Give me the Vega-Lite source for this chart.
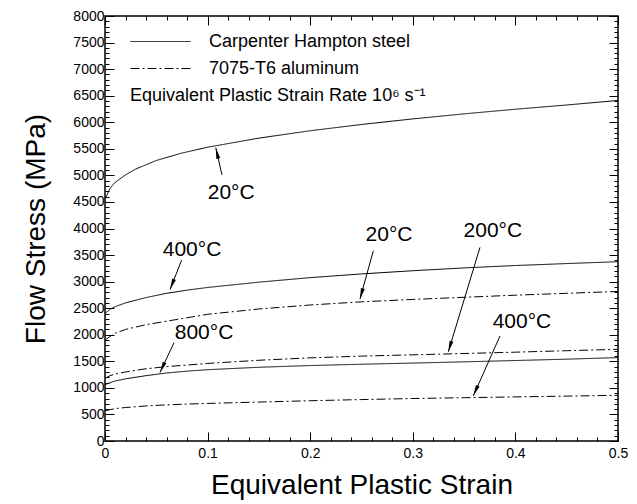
{
  "$schema": "https://vega.github.io/schema/vega-lite/v6.json",
  "width": 513,
  "height": 425,
  "autosize": {"type": "none"},
  "padding": {"left": 105, "top": 16, "right": 19, "bottom": 63},
  "background": "white",
  "config": {
    "font": "Liberation Sans",
    "view": {"stroke": "black", "strokeWidth": 1.5}
  },
  "datasets": {
    "curves": [
      {"series": "S20", "material": "Carpenter Hampton steel", "strain": 0, "stress": 4550},
      {"series": "S20", "material": "Carpenter Hampton steel", "strain": 0.005, "stress": 4760},
      {"series": "S20", "material": "Carpenter Hampton steel", "strain": 0.01, "stress": 4870},
      {"series": "S20", "material": "Carpenter Hampton steel", "strain": 0.02, "stress": 5010},
      {"series": "S20", "material": "Carpenter Hampton steel", "strain": 0.03, "stress": 5120},
      {"series": "S20", "material": "Carpenter Hampton steel", "strain": 0.05, "stress": 5280},
      {"series": "S20", "material": "Carpenter Hampton steel", "strain": 0.075, "stress": 5420},
      {"series": "S20", "material": "Carpenter Hampton steel", "strain": 0.1, "stress": 5530},
      {"series": "S20", "material": "Carpenter Hampton steel", "strain": 0.15, "stress": 5701},
      {"series": "S20", "material": "Carpenter Hampton steel", "strain": 0.2, "stress": 5840},
      {"series": "S20", "material": "Carpenter Hampton steel", "strain": 0.25, "stress": 5958},
      {"series": "S20", "material": "Carpenter Hampton steel", "strain": 0.3, "stress": 6063},
      {"series": "S20", "material": "Carpenter Hampton steel", "strain": 0.35, "stress": 6158},
      {"series": "S20", "material": "Carpenter Hampton steel", "strain": 0.4, "stress": 6245},
      {"series": "S20", "material": "Carpenter Hampton steel", "strain": 0.45, "stress": 6325},
      {"series": "S20", "material": "Carpenter Hampton steel", "strain": 0.5, "stress": 6410},
      {"series": "S400", "material": "Carpenter Hampton steel", "strain": 0, "stress": 2400},
      {"series": "S400", "material": "Carpenter Hampton steel", "strain": 0.005, "stress": 2480},
      {"series": "S400", "material": "Carpenter Hampton steel", "strain": 0.01, "stress": 2530},
      {"series": "S400", "material": "Carpenter Hampton steel", "strain": 0.02, "stress": 2600},
      {"series": "S400", "material": "Carpenter Hampton steel", "strain": 0.04, "stress": 2700},
      {"series": "S400", "material": "Carpenter Hampton steel", "strain": 0.06, "stress": 2780},
      {"series": "S400", "material": "Carpenter Hampton steel", "strain": 0.08, "stress": 2840},
      {"series": "S400", "material": "Carpenter Hampton steel", "strain": 0.1, "stress": 2890},
      {"series": "S400", "material": "Carpenter Hampton steel", "strain": 0.15, "stress": 2990},
      {"series": "S400", "material": "Carpenter Hampton steel", "strain": 0.2, "stress": 3075},
      {"series": "S400", "material": "Carpenter Hampton steel", "strain": 0.25, "stress": 3145},
      {"series": "S400", "material": "Carpenter Hampton steel", "strain": 0.3, "stress": 3205},
      {"series": "S400", "material": "Carpenter Hampton steel", "strain": 0.35, "stress": 3258},
      {"series": "S400", "material": "Carpenter Hampton steel", "strain": 0.4, "stress": 3303},
      {"series": "S400", "material": "Carpenter Hampton steel", "strain": 0.45, "stress": 3340},
      {"series": "S400", "material": "Carpenter Hampton steel", "strain": 0.5, "stress": 3375},
      {"series": "S800", "material": "Carpenter Hampton steel", "strain": 0, "stress": 1060},
      {"series": "S800", "material": "Carpenter Hampton steel", "strain": 0.005, "stress": 1100},
      {"series": "S800", "material": "Carpenter Hampton steel", "strain": 0.01, "stress": 1130},
      {"series": "S800", "material": "Carpenter Hampton steel", "strain": 0.02, "stress": 1170},
      {"series": "S800", "material": "Carpenter Hampton steel", "strain": 0.04, "stress": 1230},
      {"series": "S800", "material": "Carpenter Hampton steel", "strain": 0.06, "stress": 1280},
      {"series": "S800", "material": "Carpenter Hampton steel", "strain": 0.08, "stress": 1315},
      {"series": "S800", "material": "Carpenter Hampton steel", "strain": 0.1, "stress": 1342},
      {"series": "S800", "material": "Carpenter Hampton steel", "strain": 0.15, "stress": 1388},
      {"series": "S800", "material": "Carpenter Hampton steel", "strain": 0.2, "stress": 1420},
      {"series": "S800", "material": "Carpenter Hampton steel", "strain": 0.25, "stress": 1445},
      {"series": "S800", "material": "Carpenter Hampton steel", "strain": 0.3, "stress": 1467},
      {"series": "S800", "material": "Carpenter Hampton steel", "strain": 0.35, "stress": 1490},
      {"series": "S800", "material": "Carpenter Hampton steel", "strain": 0.4, "stress": 1515},
      {"series": "S800", "material": "Carpenter Hampton steel", "strain": 0.45, "stress": 1540},
      {"series": "S800", "material": "Carpenter Hampton steel", "strain": 0.5, "stress": 1570},
      {"series": "A20", "material": "7075-T6 aluminum", "strain": 0, "stress": 1900},
      {"series": "A20", "material": "7075-T6 aluminum", "strain": 0.005, "stress": 1970},
      {"series": "A20", "material": "7075-T6 aluminum", "strain": 0.01, "stress": 2030},
      {"series": "A20", "material": "7075-T6 aluminum", "strain": 0.02, "stress": 2100},
      {"series": "A20", "material": "7075-T6 aluminum", "strain": 0.04, "stress": 2190},
      {"series": "A20", "material": "7075-T6 aluminum", "strain": 0.06, "stress": 2255},
      {"series": "A20", "material": "7075-T6 aluminum", "strain": 0.08, "stress": 2320},
      {"series": "A20", "material": "7075-T6 aluminum", "strain": 0.1, "stress": 2385},
      {"series": "A20", "material": "7075-T6 aluminum", "strain": 0.15, "stress": 2485},
      {"series": "A20", "material": "7075-T6 aluminum", "strain": 0.2, "stress": 2560},
      {"series": "A20", "material": "7075-T6 aluminum", "strain": 0.25, "stress": 2620},
      {"series": "A20", "material": "7075-T6 aluminum", "strain": 0.3, "stress": 2665},
      {"series": "A20", "material": "7075-T6 aluminum", "strain": 0.35, "stress": 2705},
      {"series": "A20", "material": "7075-T6 aluminum", "strain": 0.4, "stress": 2745},
      {"series": "A20", "material": "7075-T6 aluminum", "strain": 0.45, "stress": 2780},
      {"series": "A20", "material": "7075-T6 aluminum", "strain": 0.5, "stress": 2815},
      {"series": "A200", "material": "7075-T6 aluminum", "strain": 0, "stress": 1180},
      {"series": "A200", "material": "7075-T6 aluminum", "strain": 0.005, "stress": 1230},
      {"series": "A200", "material": "7075-T6 aluminum", "strain": 0.01, "stress": 1260},
      {"series": "A200", "material": "7075-T6 aluminum", "strain": 0.02, "stress": 1300},
      {"series": "A200", "material": "7075-T6 aluminum", "strain": 0.04, "stress": 1360},
      {"series": "A200", "material": "7075-T6 aluminum", "strain": 0.06, "stress": 1400},
      {"series": "A200", "material": "7075-T6 aluminum", "strain": 0.08, "stress": 1430},
      {"series": "A200", "material": "7075-T6 aluminum", "strain": 0.1, "stress": 1460},
      {"series": "A200", "material": "7075-T6 aluminum", "strain": 0.15, "stress": 1520},
      {"series": "A200", "material": "7075-T6 aluminum", "strain": 0.2, "stress": 1565},
      {"series": "A200", "material": "7075-T6 aluminum", "strain": 0.25, "stress": 1598},
      {"series": "A200", "material": "7075-T6 aluminum", "strain": 0.3, "stress": 1622},
      {"series": "A200", "material": "7075-T6 aluminum", "strain": 0.35, "stress": 1647},
      {"series": "A200", "material": "7075-T6 aluminum", "strain": 0.4, "stress": 1672},
      {"series": "A200", "material": "7075-T6 aluminum", "strain": 0.45, "stress": 1700},
      {"series": "A200", "material": "7075-T6 aluminum", "strain": 0.5, "stress": 1725},
      {"series": "A400", "material": "7075-T6 aluminum", "strain": 0, "stress": 570},
      {"series": "A400", "material": "7075-T6 aluminum", "strain": 0.005, "stress": 590},
      {"series": "A400", "material": "7075-T6 aluminum", "strain": 0.01, "stress": 610},
      {"series": "A400", "material": "7075-T6 aluminum", "strain": 0.02, "stress": 630},
      {"series": "A400", "material": "7075-T6 aluminum", "strain": 0.04, "stress": 660},
      {"series": "A400", "material": "7075-T6 aluminum", "strain": 0.06, "stress": 680},
      {"series": "A400", "material": "7075-T6 aluminum", "strain": 0.08, "stress": 695},
      {"series": "A400", "material": "7075-T6 aluminum", "strain": 0.1, "stress": 707},
      {"series": "A400", "material": "7075-T6 aluminum", "strain": 0.15, "stress": 733},
      {"series": "A400", "material": "7075-T6 aluminum", "strain": 0.2, "stress": 758},
      {"series": "A400", "material": "7075-T6 aluminum", "strain": 0.25, "stress": 780},
      {"series": "A400", "material": "7075-T6 aluminum", "strain": 0.3, "stress": 800},
      {"series": "A400", "material": "7075-T6 aluminum", "strain": 0.35, "stress": 815},
      {"series": "A400", "material": "7075-T6 aluminum", "strain": 0.4, "stress": 830},
      {"series": "A400", "material": "7075-T6 aluminum", "strain": 0.45, "stress": 845},
      {"series": "A400", "material": "7075-T6 aluminum", "strain": 0.5, "stress": 860}
    ],
    "notes": [
      {"label": "20°C", "lx": 0.123, "ly": 4670, "ax": 0.114, "ay": 5009, "tx": 0.108, "ty": 5520},
      {"label": "400°C", "lx": 0.0848, "ly": 3594, "ax": 0.0747, "ay": 3406, "tx": 0.0634, "ty": 2850},
      {"label": "20°C", "lx": 0.2768, "ly": 3877, "ax": 0.2615, "ay": 3581, "tx": 0.2485, "ty": 2670},
      {"label": "200°C", "lx": 0.378, "ly": 3953, "ax": 0.3655, "ay": 3645, "tx": 0.3346, "ty": 1680},
      {"label": "400°C", "lx": 0.4064, "ly": 2245, "ax": 0.385, "ay": 1977, "tx": 0.359, "ty": 850},
      {"label": "800°C", "lx": 0.0965, "ly": 2028, "ax": 0.0673, "ay": 1853, "tx": 0.0536, "ty": 1290}
    ]
  },
  "resolve": {"axis": {"x": "independent", "y": "independent"}},
  "layer": [
    {
      "data": {"name": "curves"},
      "mark": {"type": "line", "color": "black", "strokeWidth": 1, "clip": true},
      "encoding": {
        "x": {
          "field": "strain", "type": "quantitative",
          "scale": {"domain": [0, 0.5], "nice": false, "zero": false},
          "axis": {
            "orient": "bottom",
            "values": [0,0.02,0.04,0.06,0.08,0.1,0.12,0.14,0.16,0.18,0.2,0.22,0.24,0.26,0.28,0.3,0.32,0.34,0.36,0.38,0.4,0.42,0.44,0.46,0.48,0.5],
            "tickSize": {"condition": {"test": "abs(datum.value*10 - round(datum.value*10)) < 0.000001", "value": -9}, "value": -4},
            "labelExpr": "abs(datum.value*10 - round(datum.value*10)) < 0.000001 ? datum.label : ''",
            "format": "~g",
            "domain": false, "grid": false,
            "tickColor": "black", "tickWidth": 1,
            "labelColor": "black", "labelFontSize": 14, "labelPadding": 14,
            "labelOverlap": false, "labelFlush": false,
            "title": "Equivalent Plastic Strain",
            "titleFontSize": 28, "titleFontWeight": "normal", "titleColor": "black", "titlePadding": 6
          }
        },
        "y": {
          "field": "stress", "type": "quantitative",
          "scale": {"domain": [0, 8000], "nice": false},
          "axis": {
            "orient": "left",
            "values": [0,100,200,300,400,500,600,700,800,900,1000,1100,1200,1300,1400,1500,1600,1700,1800,1900,2000,2100,2200,2300,2400,2500,2600,2700,2800,2900,3000,3100,3200,3300,3400,3500,3600,3700,3800,3900,4000,4100,4200,4300,4400,4500,4600,4700,4800,4900,5000,5100,5200,5300,5400,5500,5600,5700,5800,5900,6000,6100,6200,6300,6400,6500,6600,6700,6800,6900,7000,7100,7200,7300,7400,7500,7600,7700,7800,7900,8000],
            "tickSize": {"condition": {"test": "datum.value % 500 === 0", "value": -9}, "value": -4},
            "labelExpr": "datum.value % 500 === 0 ? datum.label : ''",
            "format": "d",
            "domain": false, "grid": false,
            "tickColor": "black", "tickWidth": 1,
            "labelColor": "black", "labelFontSize": 14, "labelPadding": 10,
            "labelOverlap": false, "labelFlush": false,
            "title": "Flow Stress (MPa)",
            "titleFontSize": 28, "titleFontWeight": "normal", "titleColor": "black", "titlePadding": 22
          }
        },
        "strokeDash": {
          "field": "material", "type": "nominal",
          "scale": {"domain": ["Carpenter Hampton steel", "7075-T6 aluminum"], "range": [[1, 0], [9, 3, 2, 3]]},
          "legend": {
            "orient": "none", "legendX": 25, "legendY": 12,
            "title": "Equivalent Plastic Strain Rate 10⁶ s⁻¹",
            "titleOrient": "bottom", "titleAnchor": "start",
            "titleFontSize": 18, "titleFontWeight": "normal", "titleColor": "black", "titlePadding": 5, "titleLimit": 500,
            "labelFontSize": 18, "labelColor": "black", "labelOffset": 18, "labelLimit": 500,
            "symbolType": "stroke", "symbolSize": 3600, "symbolStrokeWidth": 1, "symbolStrokeColor": "black",
            "clipHeight": 27, "rowPadding": 0, "padding": 0
          }
        },
        "detail": {"field": "series"}
      }
    },
    {
      "data": {"name": "curves"},
      "mark": {"type": "line", "opacity": 0},
      "encoding": {
        "x": {
          "field": "strain", "type": "quantitative",
          "scale": {"domain": [0, 0.5], "nice": false, "zero": false},
          "axis": {
            "orient": "top",
            "values": [0,0.02,0.04,0.06,0.08,0.1,0.12,0.14,0.16,0.18,0.2,0.22,0.24,0.26,0.28,0.3,0.32,0.34,0.36,0.38,0.4,0.42,0.44,0.46,0.48,0.5],
            "tickSize": {"condition": {"test": "abs(datum.value*10 - round(datum.value*10)) < 0.000001", "value": -9}, "value": -4},
            "labels": false, "domain": false, "grid": false, "title": null,
            "tickColor": "black", "tickWidth": 1
          }
        },
        "y": {
          "field": "stress", "type": "quantitative",
          "scale": {"domain": [0, 8000], "nice": false},
          "axis": {
            "orient": "right",
            "values": [0,100,200,300,400,500,600,700,800,900,1000,1100,1200,1300,1400,1500,1600,1700,1800,1900,2000,2100,2200,2300,2400,2500,2600,2700,2800,2900,3000,3100,3200,3300,3400,3500,3600,3700,3800,3900,4000,4100,4200,4300,4400,4500,4600,4700,4800,4900,5000,5100,5200,5300,5400,5500,5600,5700,5800,5900,6000,6100,6200,6300,6400,6500,6600,6700,6800,6900,7000,7100,7200,7300,7400,7500,7600,7700,7800,7900,8000],
            "tickSize": {"condition": {"test": "datum.value % 500 === 0", "value": -9}, "value": -4},
            "labels": false, "domain": false, "grid": false, "title": null,
            "tickColor": "black", "tickWidth": 1
          }
        },
        "detail": {"field": "series"}
      }
    },
    {
      "data": {"name": "notes"},
      "mark": {"type": "rule", "color": "black", "strokeWidth": 1},
      "encoding": {
        "x": {"field": "ax", "type": "quantitative", "scale": {"domain": [0, 0.5], "nice": false, "zero": false}, "axis": null},
        "y": {"field": "ay", "type": "quantitative", "scale": {"domain": [0, 8000], "nice": false}, "axis": null},
        "x2": {"field": "tx"},
        "y2": {"field": "ty"}
      }
    },
    {
      "data": {"name": "notes"},
      "mark": {
        "type": "point", "filled": true, "color": "black", "opacity": 1, "size": 100,
        "shape": "M0,0L0.4,2.2L-0.4,2.2Z",
        "angle": {"expr": "atan2(scale('x', datum.tx) - scale('x', datum.ax), scale('y', datum.ay) - scale('y', datum.ty)) * 180 / PI"}
      },
      "encoding": {
        "x": {"field": "tx", "type": "quantitative", "scale": {"domain": [0, 0.5], "nice": false, "zero": false}, "axis": null},
        "y": {"field": "ty", "type": "quantitative", "scale": {"domain": [0, 8000], "nice": false}, "axis": null}
      }
    },
    {
      "data": {"name": "notes"},
      "mark": {"type": "text", "color": "black", "fontSize": 21, "align": "center", "baseline": "middle"},
      "encoding": {
        "x": {"field": "lx", "type": "quantitative", "scale": {"domain": [0, 0.5], "nice": false, "zero": false}, "axis": null},
        "y": {"field": "ly", "type": "quantitative", "scale": {"domain": [0, 8000], "nice": false}, "axis": null},
        "text": {"field": "label"}
      }
    }
  ]
}
